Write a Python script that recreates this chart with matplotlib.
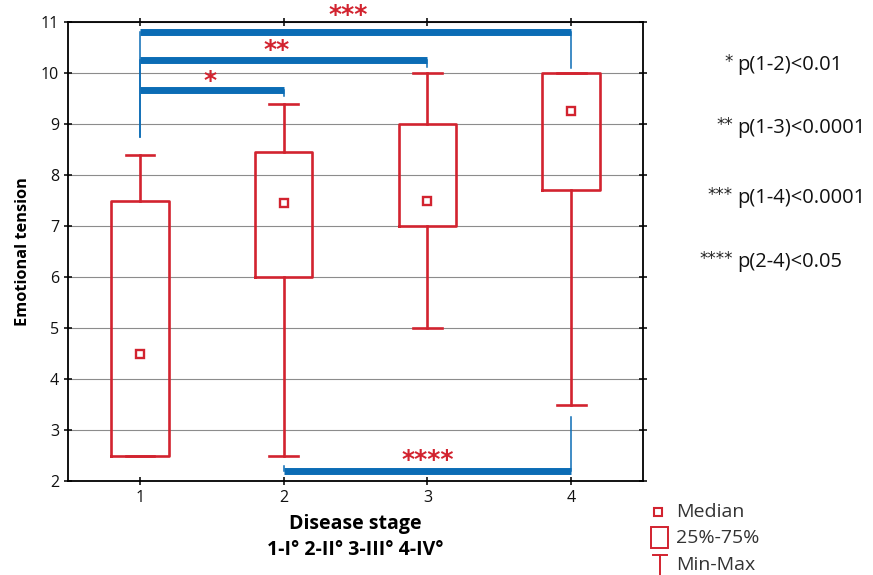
import matplotlib
matplotlib.use('Agg')
import matplotlib.pyplot as plt
from matplotlib.patches import Rectangle
from matplotlib.lines import Line2D

plt.rcParams['font.family'] = ['Open Sans', 'DejaVu Sans']

RED = '#d2232f'
BLUE = '#0b6cb5'

# data
stages = [1, 2, 3, 4]
medians = [4.5, 7.45, 7.5, 9.25]
q1 = [2.5, 6.0, 7.0, 7.7]
q3 = [7.5, 8.45, 9.0, 10.0]
mins = [2.5, 2.5, 5.0, 3.5]
maxs = [8.4, 9.4, 10.0, 10.0]

# significance brackets: (from, to, bar y, drop end at "from", drop end at "to", label, label x, label y)
brackets = [
    (1, 2, 9.67, 9.67, 9.55, '*', 1.49, 9.84),
    (1, 3, 10.25, 8.75, 10.12, '**', 1.95, 10.45),
    (1, 4, 10.8, 8.75, 10.1, '***', 2.45, 11.14),
    (2, 4, 2.2, 2.3, 3.25, '****', 3.0, 2.41),
]

pvals_stars = ['*', '**', '***', '****']
pvals_text = ['p(1-2)<0.01', 'p(1-3)<0.0001', 'p(1-4)<0.0001', 'p(2-4)<0.05']

fig = plt.figure(figsize=(8.73, 5.75), dpi=100)
ax = fig.add_axes([68 / 873, 1 - 481 / 575, (643 - 68) / 873, (481 - 22) / 575])

stats = []
for i in range(len(stages)):
    stats.append({'med': medians[i], 'q1': q1[i], 'q3': q3[i],
                  'whislo': mins[i], 'whishi': maxs[i], 'fliers': []})

ax.bxp(stats, positions=stages, widths=0.4, capwidths=0.2, showfliers=False,
       boxprops=dict(color=RED, linewidth=1.9),
       whiskerprops=dict(color=RED, linewidth=1.9),
       capprops=dict(color=RED, linewidth=1.9),
       medianprops=dict(linestyle='none'), zorder=3)
ax.plot(stages, medians, 's', ms=5.5, mfc='white', mec=RED, mew=1.7, zorder=4)

for x0, x1, yb, d0, d1, lab, lx, ly in brackets:
    ax.plot([x0, x1], [yb, yb], color=BLUE, lw=5, solid_capstyle='butt', zorder=5, clip_on=False)
    ax.plot([x0, x0], [d0, yb], color=BLUE, lw=1.1, zorder=5, clip_on=False)
    ax.plot([x1, x1], [d1, yb], color=BLUE, lw=1.1, zorder=5, clip_on=False)
    ax.text(lx, ly, lab, color=RED, fontsize=18, fontweight='bold', ha='center', va='center',
            family='DejaVu Sans', clip_on=False)

ax.set_xlim(0.5, 4.5)
ax.set_ylim(2, 11)
ax.set_xticks(stages)
ax.set_yticks(range(2, 12))
ax.yaxis.grid(True, color='#8c8c8c', lw=0.8)
ax.set_axisbelow(True)
ax.tick_params(direction='inout', length=6, width=1.2, top=True, right=True, labelsize=11.5, colors='#111111')
for s in ax.spines.values():
    s.set_linewidth(1.3)

ax.set_ylabel('Emotional tension', fontsize=11.8, fontweight='bold', labelpad=7)
ax.set_xlabel('Disease stage\n1-I\u00b0 2-II\u00b0 3-III\u00b0 4-IV\u00b0', fontsize=14,
              fontweight='bold', linespacing=1.35, labelpad=6)

# p-value notes on the right
ys = [65, 128, 198, 262]
for st, tx, py in zip(pvals_stars, pvals_text, ys):
    fig.text(733 / 873, 1 - (py - 3) / 575, st, fontsize=12, ha='right', va='center', color='#222222',
             family='DejaVu Sans')
    fig.text(737 / 873, 1 - py / 575, tx, fontsize=14.5, ha='left', va='center', color='#111111')

# legend drawn by hand
fig.add_artist(Line2D([658 / 873], [1 - 512 / 575], marker='s', ms=5.5, mfc='white', mec=RED,
                      mew=1.5, transform=fig.transFigure))
fig.add_artist(Rectangle((651 / 873, 1 - 548 / 575), 17 / 873, 21 / 575, fill=False, ec=RED,
                         lw=1.4, transform=fig.transFigure))
fig.add_artist(Line2D([653 / 873, 667 / 873], [1 - 555 / 575, 1 - 555 / 575], color=RED, lw=1.4,
                      transform=fig.transFigure))
fig.add_artist(Line2D([660 / 873, 660 / 873], [1 - 555 / 575, 0], color=RED, lw=1.4,
                      transform=fig.transFigure))
for lab, py in zip(['Median', '25%-75%', 'Min-Max'], [512, 538, 565]):
    fig.text(676 / 873, 1 - py / 575, lab, fontsize=14, ha='left', va='center', color='#333333')

fig.savefig('out.png', dpi=100)
